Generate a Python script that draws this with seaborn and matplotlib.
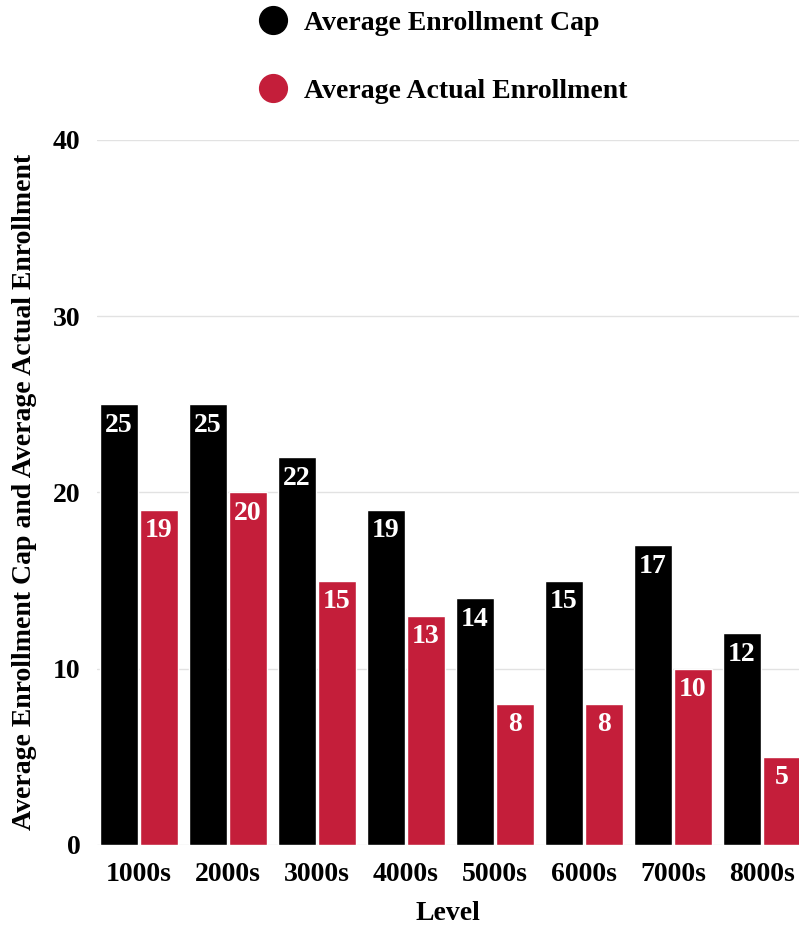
import matplotlib
matplotlib.use('Agg')
import matplotlib.pyplot as plt
from matplotlib.lines import Line2D
import seaborn as sns
import pandas as pd

levels = ['1000s', '2000s', '3000s', '4000s', '5000s', '6000s', '7000s', '8000s']
enrollment_cap = [25, 25, 22, 19, 14, 15, 17, 12]
actual_enrollment = [19, 20, 15, 13, 8, 8, 10, 5]
series_names = ['Average Enrollment Cap', 'Average Actual Enrollment']
colors = ['#000000', '#C41E3A']

df = pd.DataFrame({
    'Level': levels * 2,
    'value': enrollment_cap + actual_enrollment,
    'series': [series_names[0]] * len(levels) + [series_names[1]] * len(levels),
})

sns.set_theme(style='white')
plt.rcParams['font.family'] = ['Liberation Serif', 'DejaVu Serif']
plt.rcParams['font.weight'] = 'bold'
plt.rcParams['text.color'] = 'black'
plt.rcParams['axes.labelcolor'] = 'black'

fig = plt.figure(figsize=(7.99, 9.27), dpi=100)
ax = fig.add_axes([0.1214, 0.0885, 0.8786, 0.7605])

sns.barplot(data=df, x='Level', y='value', hue='series', palette=colors,
            width=0.9, gap=0.05, saturation=1, ax=ax, legend=False)

for cont in ax.containers:
    ax.bar_label(cont, padding=-24, color='white', fontsize=20, fontweight='bold')

ax.set_ylim(0, 40)
ax.set_xlim(-0.472, 7.416)
ax.set_yticks([0, 10, 20, 30, 40])
ax.yaxis.grid(True, color='#E2E2E2', linewidth=1)
ax.set_axisbelow(True)
for s in ax.spines.values():
    s.set_visible(False)
ax.tick_params(axis='both', length=0, labelsize=20, colors='black')
ax.tick_params(axis='y', pad=12)
ax.tick_params(axis='x', pad=12)
ax.set_xlabel('Level', fontsize=20, fontweight='bold', labelpad=10)
ax.set_ylabel('Average Enrollment Cap and Average Actual Enrollment',
              fontsize=20, fontweight='bold')
ax.yaxis.set_label_coords(-0.0855, 0.5007)

handles = [Line2D([], [], marker='o', linestyle='', markersize=20,
                  markerfacecolor=c, markeredgecolor=c) for c in colors]
fig.legend(handles, series_names, loc='upper left', bbox_to_anchor=(0.275, 1.016),
           frameon=False, labelspacing=1.55, handletextpad=0.15,
           prop={'weight': 'bold', 'size': 20})

fig.savefig('out.png', dpi=100)
